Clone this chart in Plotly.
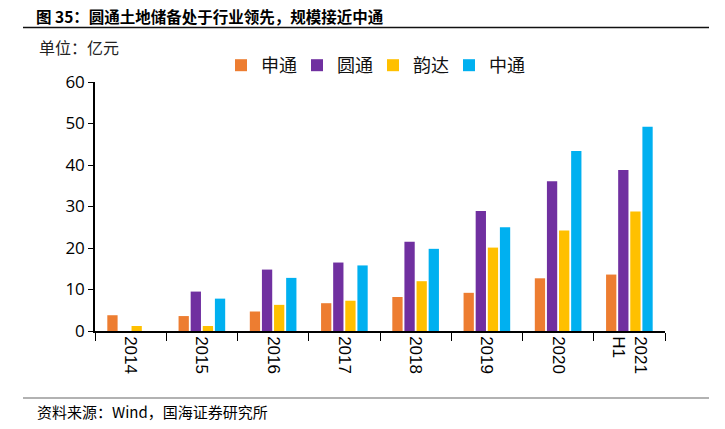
import plotly.graph_objects as go

categories = ["2014", "2015", "2016", "2017", "2018", "2019", "2020", "2021<br>H1"]
sto = [3.8, 3.6, 4.7, 6.7, 8.2, 9.2, 12.7, 13.6]
yto = [None, 9.5, 14.8, 16.5, 21.5, 28.9, 36.1, 38.8]
yunda = [1.2, 1.2, 6.3, 7.3, 12.0, 20.1, 24.2, 28.8]
zto = [None, 7.8, 12.8, 15.8, 19.8, 25.0, 43.4, 49.2]
series_names = ["申通", "圆通", "韵达", "中通"]
colors = ["#ED7D31", "#7030A0", "#FFC000", "#00B0F0"]

fig = go.Figure()
for name, vals, c in zip(series_names, [sto, yto, yunda, zto], colors):
    fig.add_trace(go.Bar(name=name, x=categories, y=vals, marker_color=c,
                         marker_line_width=0))

OFF = 8  # page body margin
W, H = 725 - OFF, 429 - OFF
L, T = 95 - OFF, 82 - OFF
R = W - (665 - OFF)
B = H - (331 - OFF)
pw = W - L - R
ph = H - T - B

def px(X):
    return (X - OFF - L) / pw

def py(Y):
    return (H - B - (Y - OFF)) / ph

fig.update_layout(
    width=W, height=H,
    margin=dict(l=L, r=R, t=T, b=B, autoexpand=False),
    paper_bgcolor="white", plot_bgcolor="white",
    barmode="group", bargap=0.32, bargroupgap=0.15,
    font=dict(family="Open Sans, Noto Sans CJK SC", color="#000000"),
    legend=dict(orientation="h", x=px(221), y=py(47), xanchor="left", yanchor="top",
                font=dict(size=18, family="Noto Sans CJK SC", color="#111111"),
                entrywidth=31, entrywidthmode="pixels",
                tracegroupgap=0, bgcolor="rgba(0,0,0,0)"),
    showlegend=True,
)
fig.update_xaxes(
    type="category", showline=True, linecolor="black", linewidth=1.5,
    ticks="outside", tickson="boundaries", ticklen=8, tickcolor="black", tickwidth=1.2,
    tickangle=90, tickfont=dict(size=17, family="Liberation Sans, Arial"),
    showgrid=False, automargin=False,
)
fig.update_yaxes(
    range=[0, 60], dtick=10, showline=True, linecolor="black", linewidth=1.5,
    ticks="outside", ticklen=5, tickcolor="black", tickwidth=1.2,
    tickfont=dict(size=17, family="Open Sans"), showgrid=False, zeroline=False,
    automargin=False,
)

fig.add_annotation(text="<b>图 35：圆通土地储备处于行业领先，规模接近中通</b>",
                   xref="paper", yref="paper", x=px(35), y=py(16), xanchor="left", yanchor="middle",
                   showarrow=False, borderpad=0,
                   font=dict(size=15.5, family="Noto Sans CJK SC", color="black"))
fig.add_annotation(text="单位：亿元",
                   xref="paper", yref="paper", x=px(37), y=py(47), xanchor="left", yanchor="middle",
                   showarrow=False, font=dict(size=16, family="Noto Sans CJK SC", color="#222222"))
fig.add_annotation(text="资料来源：Wind，国海证券研究所",
                   xref="paper", yref="paper", x=px(35), y=py(411), xanchor="left", yanchor="middle",
                   showarrow=False, font=dict(size=15, family="Noto Sans CJK SC", color="black"))
fig.add_shape(type="line", xref="paper", yref="paper", x0=px(23), x1=px(709), y0=py(27.5), y1=py(27.5),
              line=dict(color="#111111", width=1.5))
fig.add_shape(type="line", xref="paper", yref="paper", x0=px(23), x1=px(709), y0=py(398), y1=py(398),
              line=dict(color="#666666", width=1.2))

fig.write_html("out.html")
